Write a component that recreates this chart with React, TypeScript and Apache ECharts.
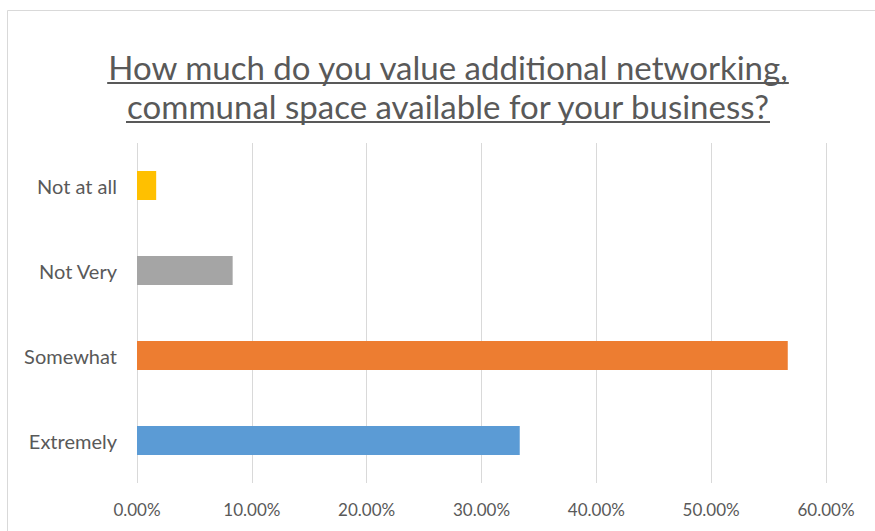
import React, { useEffect, useRef } from "react";
import * as echarts from "echarts";

const categories = ["Extremely", "Somewhat", "Not Very", "Not at all"];
const values = [33.33, 56.67, 8.33, 1.67];
const colors = ["#5b9bd5", "#ed7d31", "#a5a5a5", "#ffc000"];
const titleLines = [
  "How much do you value additional networking,",
  "communal space available for your business?",
];

const FONT = "Lato, 'Open Sans', sans-serif";

function measure(text: string, size: number): number {
  const c = document.createElement("canvas").getContext("2d");
  if (!c) return text.length * size * 0.5;
  c.font = `${size}px Lato`;
  return c.measureText(text).width;
}

export default function App() {
  const ref = useRef<HTMLDivElement>(null);
  useEffect(() => {
    if (!ref.current) return;
    const chart = echarts.init(ref.current, null, { renderer: "svg" });
    const titleSize = 33;
    const cx = 448;
    const lineYs = [67, 106];
    const graphics: any[] = [
      {
        type: "rect",
        shape: { x: 7.5, y: 10.5, width: 900, height: 600 },
        style: { fill: "none", stroke: "#d9d9d9", lineWidth: 1 },
        silent: true,
      },
    ];
    titleLines.forEach((t, i) => {
      const w = measure(t, titleSize);
      graphics.push({
        type: "text",
        x: cx,
        y: lineYs[i],
        style: {
          text: t,
          fill: "#595959",
          font: `${titleSize}px ${FONT}`,
          align: "center",
          verticalAlign: "middle",
        },
      });
      graphics.push({
        type: "line",
        shape: {
          x1: cx - w / 2,
          y1: lineYs[i] + 16,
          x2: cx + w / 2,
          y2: lineYs[i] + 16,
        },
        style: { stroke: "#595959", lineWidth: 2 },
      });
    });
    chart.setOption({
      animation: false,
      backgroundColor: "#ffffff",
      graphic: graphics,
      grid: { left: 137, right: 49, top: 143, bottom: 48, containLabel: false },
      xAxis: {
        type: "value",
        min: 0,
        max: 60,
        interval: 10,
        axisLine: { show: false },
        axisTick: { show: false },
        splitLine: { show: true, lineStyle: { color: "#d9d9d9", width: 1 } },
        axisLabel: {
          color: "#595959",
          fontSize: 17,
          fontFamily: FONT,
          margin: 18,
          formatter: (v: number) => v.toFixed(2) + "%",
        },
      },
      yAxis: {
        type: "category",
        data: categories,
        axisLine: { show: false },
        axisTick: { show: false },
        axisLabel: {
          color: "#595959",
          fontSize: 20,
          fontFamily: FONT,
          margin: 20,
        },
      },
      series: [
        {
          type: "bar",
          barWidth: 29,
          data: values.map((v, i) => ({
            value: v,
            itemStyle: { color: colors[i] },
          })),
        },
      ],
    });
    return () => chart.dispose();
  }, []);
  return (
    <div
      ref={ref}
      style={{ position: "fixed", left: 0, top: 0, width: 875, height: 531 }}
    />
  );
}
